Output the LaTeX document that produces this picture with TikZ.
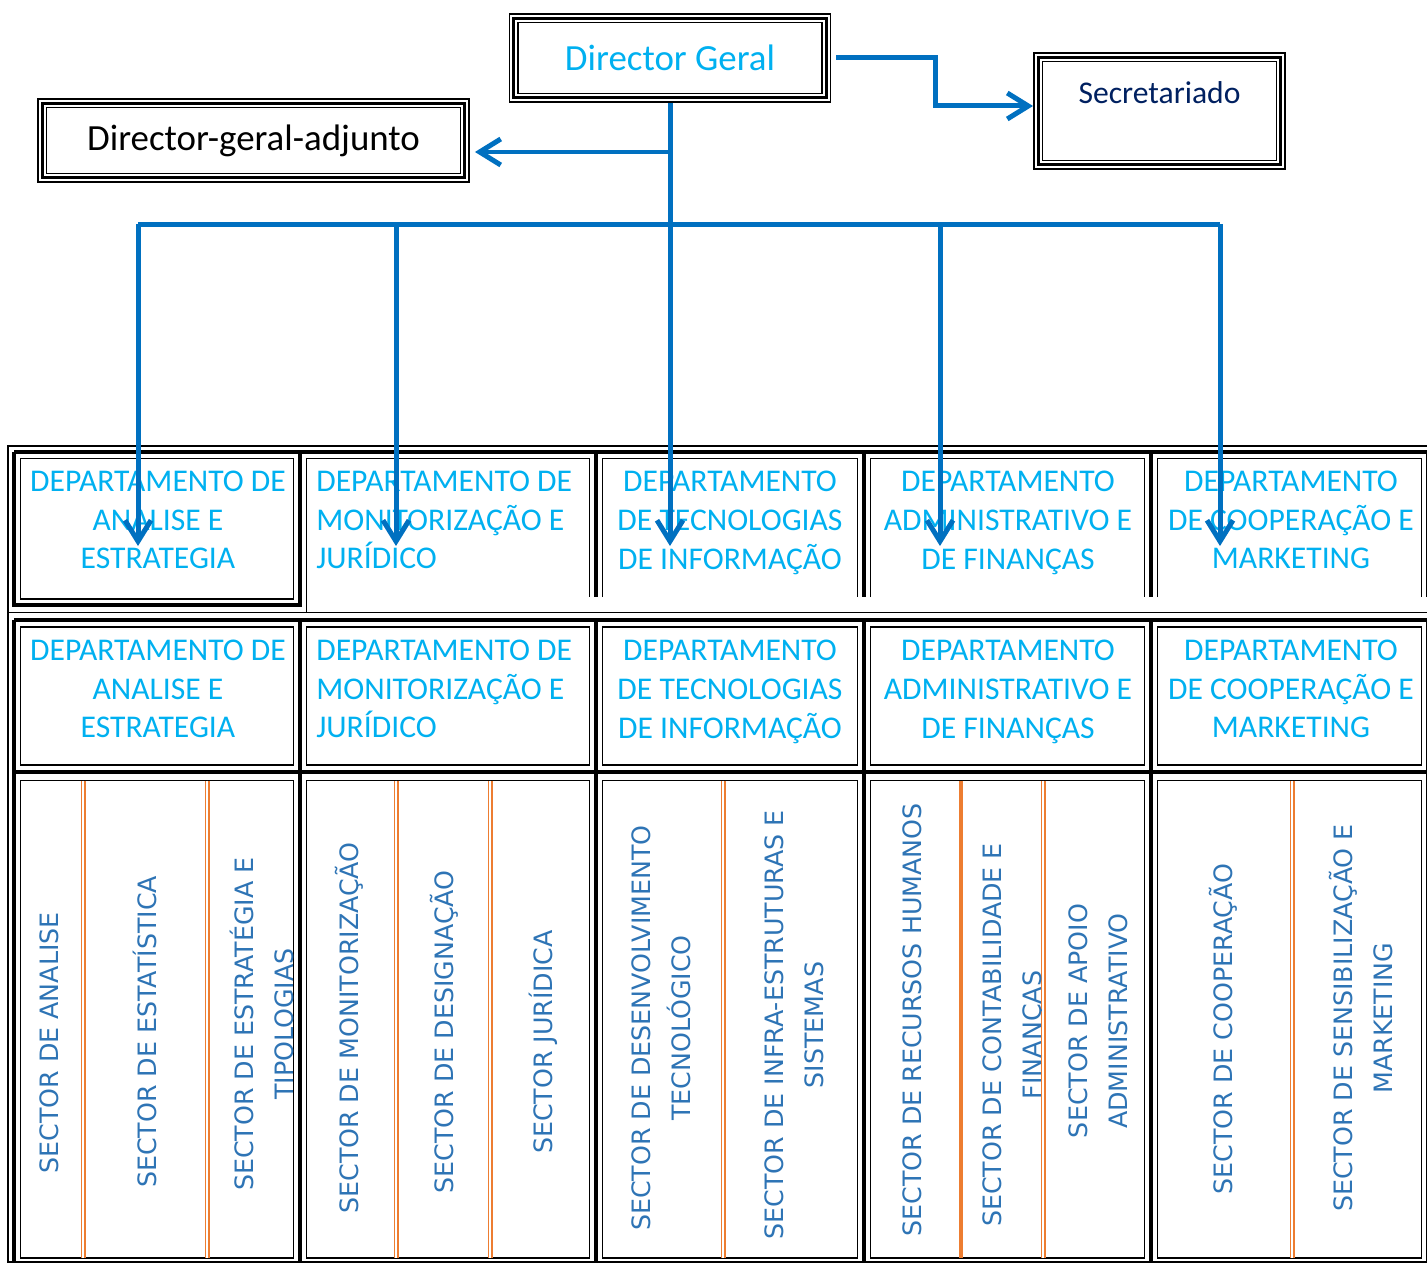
\documentclass[tikz,border=0pt]{standalone}
\usepackage{fontspec}
\setmainfont{Carlito}
\newfontfamily\sectfont{DejaVu Sans}
\usetikzlibrary{arrows.meta,positioning,calc}
\definecolor{deptblue}{RGB}{0,176,240}
\definecolor{arrowblue}{RGB}{0,112,192}
\definecolor{sectblue}{RGB}{46,116,181}
\definecolor{secnavy}{RGB}{0,32,96}
\definecolor{sectorange}{RGB}{237,125,49}

\begin{document}
\begin{tikzpicture}[x=0.02cm,y=-0.02cm]
\tikzstyle{tribox} = [draw=black, line width=0.2cm, postaction={draw=white, line width=0.14cm}, postaction={draw=black, line width=0.06cm}, inner sep=0pt]
\tikzstyle{dept} = [text=deptblue, font=\fontsize{18}{22}\selectfont, align=center, inner sep=0pt]
\tikzstyle{sector} = [text=sectblue, font=\sectfont\fontsize{14.4}{22.7}\selectfont, align=center, rotate=90, inner sep=0pt]
\tikzstyle{arr} = [draw=arrowblue, line width=0.1cm, -{Straight Barb[length=0.42cm,width=0.52cm]}]
\tikzstyle{link} = [draw=arrowblue, line width=0.1cm]
\tikzstyle{thickrule} = [line width=0.08cm]
\tikzstyle{thinrule} = [line width=0.03cm]
\tikzstyle{orangerule} = [draw=sectorange, double=white, line width=0.03cm, double distance=0.04cm]
    \useasboundingbox (0,0) rectangle (1427,1264);

    \node[tribox, minimum width=6.26cm, minimum height=1.6cm, text=deptblue, font=\fontsize{21}{26}\selectfont] (dg) at (670,58) {Director Geral};
    \node[tribox, minimum width=8.46cm, minimum height=1.5cm, font=\fontsize{21}{26}\selectfont] (dga) at (253.5,140.5) {Director-geral-adjunto};
    \node[tribox, minimum width=4.86cm, minimum height=2.16cm, text=secnavy, font=\fontsize{18}{21.5}\selectfont, align=center] (sec) at (1159.5,111) {Secretariado\\\mbox{}};

    \draw[thinrule] (1430,446) -- (8,446) -- (8,1262) -- (1430,1262);
    \draw[thinrule] (8,612.5) -- (1430,612.5);
    \draw[thickrule] (14,452) -- (1430,452);
    \draw[thickrule] (14,620) -- (1430,620);
    \draw[thickrule] (14,772) -- (1430,772);
    \draw[thickrule] (14,452) -- (14,605) -- (300,605) -- (300,452);
    \foreach \x in {596,864,1151,1428}
        \draw[thickrule] (\x,452) -- (\x,597);
    \foreach \x in {14,300,596,864,1151,1428}
        \draw[thickrule] (\x,620) -- (\x,1262);
    \draw[thinrule] (20.5,458.5) rectangle (293.5,599);
    \foreach \l/\r in {300/596,596/864,864/1151,1151/1428}
        \draw[thinrule] (\l+6.5,597) -- (\l+6.5,458.5) -- (\r-6.5,458.5) -- (\r-6.5,597);
    \draw[thinrule] (306.5,597) -- (306.5,612.5);
    \foreach \l/\r in {14/300,300/596,596/864,864/1151,1151/1428} {
        \draw[thinrule] (\l+6.5,627) rectangle (\r-6.5,765);
        \draw[thinrule] (\l+6.5,780.5) rectangle (\r-6.5,1258);
    }

    \foreach \x in {83,207,396,490,723,1043,1292}
        \draw[orangerule] (\x,780.5) -- (\x,1258);
    \draw[draw=sectorange, line width=0.07cm] (961,780.5) -- (961,1258);

    \node[dept] (a1) at (158,520) {DEPARTAMENTO DE\\ANALISE E\\ESTRATEGIA};
    \node[dept, align=left, anchor=west] (a2) at (316,520) {DEPARTAMENTO DE\\MONITORIZAÇÃO E\\JURÍDICO};
    \node[dept] (a3) at (730,523) {DEPARTAMENTO\\DE TECNOLOGIAS\\DE INFORMAÇÃO};
    \node[dept] (a4) at (1008,523) {DEPARTAMENTO\\ADMINISTRATIVO E\\DE FINANÇAS};
    \node[dept] (a5) at (1291,520) {DEPARTAMENTO\\DE COOPERAÇÃO E\\MARKETING};

    \node[dept] (b1) at (158,689) {DEPARTAMENTO DE\\ANALISE E\\ESTRATEGIA};
    \node[dept, align=left, anchor=west] (b2) at (316,689) {DEPARTAMENTO DE\\MONITORIZAÇÃO E\\JURÍDICO};
    \node[dept] (b3) at (730,692) {DEPARTAMENTO\\DE TECNOLOGIAS\\DE INFORMAÇÃO};
    \node[dept] (b4) at (1008,692) {DEPARTAMENTO\\ADMINISTRATIVO E\\DE FINANÇAS};
    \node[dept] (b5) at (1291,689) {DEPARTAMENTO\\DE COOPERAÇÃO E\\MARKETING};

    \node[sector] (s11) at (49,1043) {SECTOR DE ANALISE};
    \node[sector] (s12) at (145,1032) {SECTOR DE ESTATÍSTICA};
    \node[sector] (s13) at (262,1024) {SECTOR DE ESTRATÉGIA E\\TIPOLOGIAS};
    \node[sector] (s21) at (349,1028) {SECTOR DE MONITORIZAÇÃO};
    \node[sector] (s22) at (444,1032) {SECTOR DE DESIGNAÇÃO};
    \node[sector] (s23) at (543,1042) {SECTOR JURÍDICA};
    \node[sector] (s31) at (661,1028) {SECTOR DE DESENVOLVIMENTO\\TECNOLÓGICO};
    \node[sector] (s32) at (794,1025) {SECTOR DE INFRA-ESTRUTURAS E\\SISTEMAS};
    \node[sector] (s41) at (912,1020) {SECTOR DE RECURSOS HUMANOS};
    \begin{scope}
        \clip (963,780) rectangle (1041,1258);
        \node[sector] (s42) at (1014.5,1035) {SECTOR DE CONTABILIDADE E\\FINANÇAS};
    \end{scope}
    \node[sector] (s43) at (1098,1021) {SECTOR DE APOIO\\ADMINISTRATIVO};
    \node[sector] (s51) at (1223,1029) {SECTOR DE COOPERAÇÃO};
    \node[sector] (s52) at (1361,1018) {SECTOR DE SENSIBILIZAÇÃO E\\MARKETING};

    \coordinate (split) at (670,152);
    \coordinate (bar) at (670,224);
    \coordinate (bend) at (935,106);
    \foreach \x [count=\i] in {138,396,670,940,1220}
        \coordinate (t\i) at (\x,546);

    \draw[arr] ([xshift=0.1cm]dg.east) -| (bend) -- (sec.west |- bend);
    \draw[arr] (split) -- ([xshift=0.1cm]dga.east |- split);
    \draw[arr] (dg.south) -- (t3);
    \draw[link] (t1 |- bar) -- (t5 |- bar);
    \foreach \i in {1,2,4,5}
        \draw[arr] (t\i |- bar) -- (t\i);
\end{tikzpicture}
\end{document}
